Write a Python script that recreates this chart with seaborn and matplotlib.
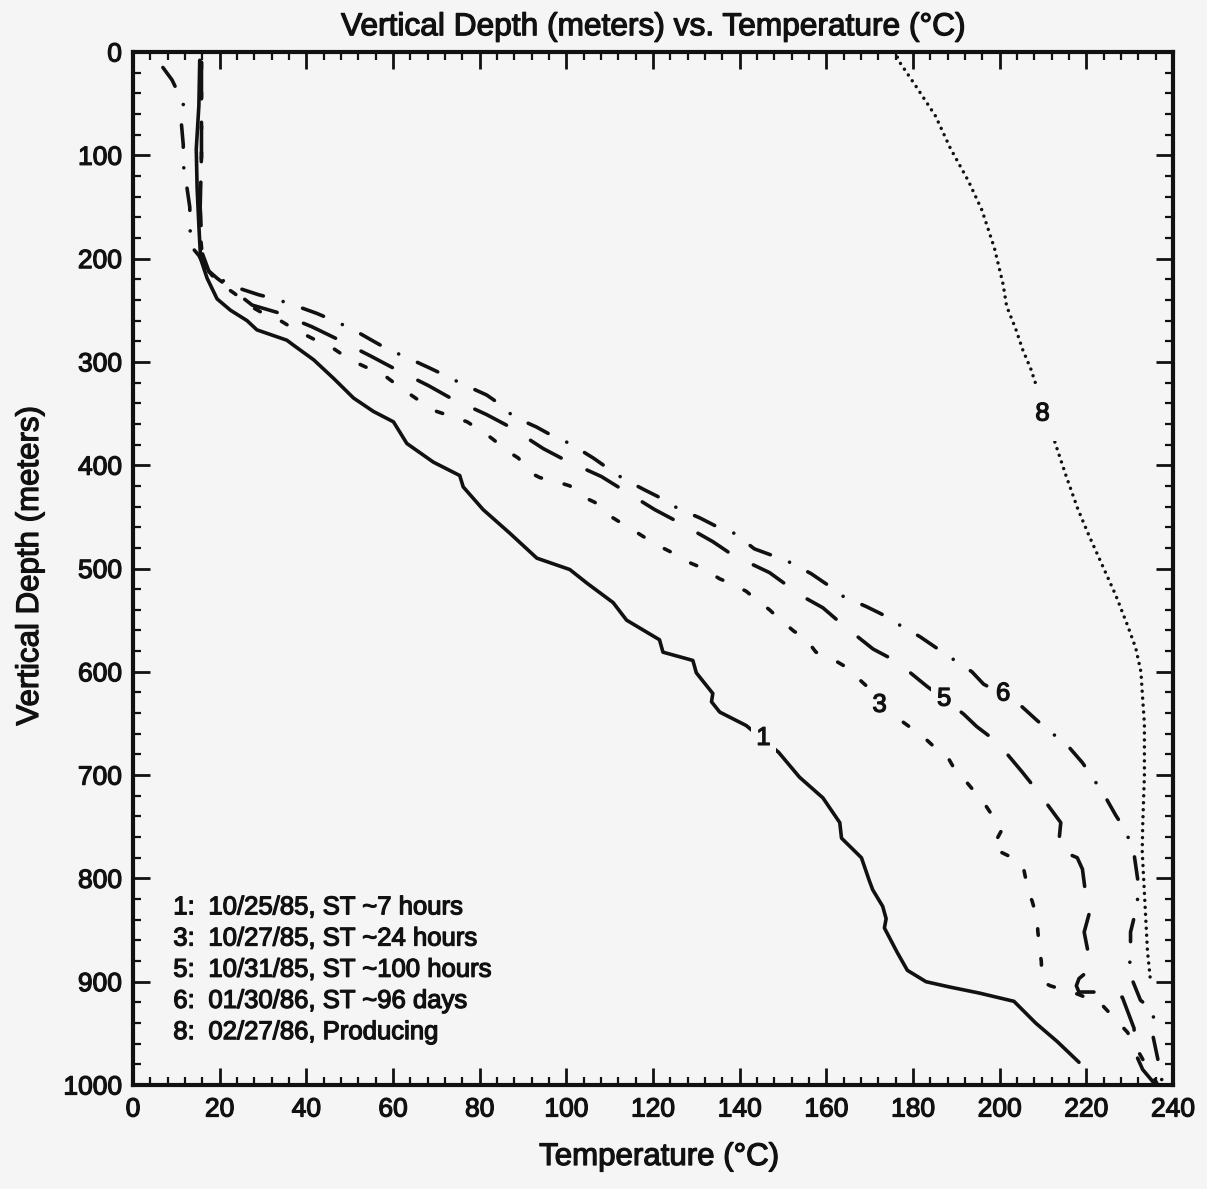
import matplotlib
matplotlib.use("Agg")
import matplotlib.pyplot as plt
import matplotlib.patheffects as pe
from matplotlib.ticker import MultipleLocator
import pandas as pd
import seaborn as sns

# Well temperature surveys: temperature (deg C) against vertical depth (m)
t1 = [15.4, 15.2, 14.6, 14.8, 15.2, 15.6, 17.1, 19.4, 22.5, 26.3, 28.6, 35.5, 37.1, 41.7, 46.3,
      50.9, 55.5, 60.1, 63.2, 69.3, 75.4, 76.2, 80.8, 87.0, 93.2, 100.8, 104.7, 110.8, 113.9,
      121.5, 122.3, 129.2, 130.0, 133.8, 133.5, 135.4, 141.5, 149.0, 153.8, 159.2, 163.1, 163.5,
      168.1, 169.9, 170.7, 173.0, 173.8, 173.4, 176.4, 178.7, 183.0, 188.3, 195.3, 203.3, 208.3,
      213.3, 218.3]
d1 = [8, 52, 94, 132, 168, 200, 219, 239, 250, 260, 269, 279, 284, 298, 316,
      335, 348, 358, 379, 397, 410, 421, 443, 466, 490, 501, 514, 533, 550,
      569, 581, 589, 601, 621, 629, 639, 652, 678, 702, 722, 746, 761,
      780, 802, 811, 827, 839, 848, 872, 889, 900, 905, 911, 919, 940,
      958, 978]

t3 = [15.8, 15.8, 15.5, 15.6, 16.0, 17.4, 19.4, 23.5, 27.5, 30.9, 33.2, 37.1, 39.4, 43.6, 45.9,
      50.1, 56.3, 58.6, 62.4, 64.5, 68.3, 70.1, 75.1, 77.1, 81.2, 83.1, 87.0, 88.9, 92.0, 93.9,
      98.5, 100.8, 104.6, 106.6, 110.4, 112.3, 116.6, 118.5, 122.7, 124.6, 128.8, 131.1, 135.4,
      137.7, 141.5, 143.8, 146.9, 149.2, 152.6, 154.9, 157.6, 159.9, 164.0, 166.2, 169.6, 172.4,
      176.5, 180.1, 182.4, 185.5, 187.8, 190.1, 192.0, 194.8, 196.7, 199.4, 200.5, 198.2, 200.5,
      204.4, 205.6, 206.7, 207.5, 208.7, 208.8, 209.3, 209.6, 209.8, 211.7, 218.0, 223.3, 229.5,
      233.0, 236.5]
d3 = [10, 100, 150, 180, 197, 212, 222, 234, 247, 255, 258, 268, 273, 282, 286,
      298, 310, 315, 327, 333, 344, 348, 355, 358, 369, 375, 388, 393, 408, 412,
      417, 420, 432, 436, 450, 455, 466, 471, 481, 485, 495, 499, 510,
      514, 522, 530, 540, 549, 561, 566, 581, 584, 594, 602, 615, 632,
      645, 656, 663, 675, 681, 698, 705, 719, 729, 746, 753, 771, 775,
      783, 792, 814, 822, 840, 851, 871, 880, 900, 904, 912, 921, 949,
      975, 1000]

t5 = [15.8, 15.8, 15.5, 16.0, 17.5, 19.4, 23.5, 27.5, 33.2, 41.3, 46.7, 54.7, 60.1, 68.2, 73.3,
      81.6, 87.0, 94.7, 99.7, 108.1, 113.1, 120.4, 125.8, 133.8, 138.4, 146.9, 151.5, 154.5,
      159.2, 164.2, 170.8, 176.2, 183.2, 187.4, 191.7, 194.7, 199.4, 205.2, 209.0, 214.1, 213.5,
      217.9, 219.1, 219.9, 220.6, 219.5, 220.8, 220.6, 218.3, 217.7, 218.3, 222.9, 228.3, 231.0,
      231.4, 233.0, 236.0]
d5 = [10, 100, 150, 195, 212, 219, 232, 245, 252, 266, 277, 294, 306, 323, 335,
      351, 363, 384, 395, 411, 424, 443, 455, 474, 487, 504, 518, 527,
      538, 556, 578, 590, 614, 627, 641, 653, 668, 697, 717, 746, 772,
      780, 791, 817, 835, 852, 880, 889, 897, 904, 910, 910, 915, 945,
      970, 985, 1000]

t6 = [6.9, 9.0, 9.8, 11.7, 11.1, 11.6, 11.6, 12.3, 13.1, 13.2, 13.2, 15.2, 16.5, 19.4, 23.2,
      29.0, 32.8, 37.1, 42.4, 46.3, 50.5, 55.5, 58.9, 62.8, 68.5, 72.0, 75.8, 81.6, 84.7, 87.8,
      93.1, 97.0, 100.8, 106.2, 109.6, 113.1, 118.1, 121.9, 125.8, 130.8, 135.0, 138.8, 143.4,
      147.3, 151.1, 156.5, 160.0, 163.9, 169.3, 172.7, 176.6, 181.6, 185.1, 188.6, 193.6, 196.3,
      200.9, 205.2, 208.6, 211.7, 216.0, 219.1, 221.4, 224.5, 226.8, 229.1, 231.0, 232.2, 231.2,
      230.2, 230.2, 229.9, 232.5, 235.6, 235.2, 236.5, 237.5]
d6 = [15, 27, 34, 48, 66, 90, 109, 127, 150, 169, 187, 197, 207, 218, 227,
      235, 239, 245, 253, 260, 268, 280, 288, 295, 306, 313, 321, 332, 341, 353,
      363, 372, 379, 393, 403, 413, 424, 432, 442, 451, 460, 466, 481,
      487, 493, 505, 515, 527, 537, 544, 554, 566, 576, 586, 600, 612,
      622, 634, 647, 658, 673, 688, 702, 722, 739, 754, 776, 811, 835,
      852, 870, 891, 918, 928, 949, 975, 997]

t8 = [176.4, 177.1, 180.5, 185.2, 188.6, 192.8, 195.9, 198.8, 200.8, 201.6, 203.7, 205.3, 207.2,
      209.0, 211.0, 213.0, 215.3, 218.0, 220.6, 223.7, 226.8, 229.5, 231.4, 232.6, 233.0, 233.4,
      233.4, 233.0, 232.9, 233.3, 233.7, 234.1, 234.8]
d8 = [5, 11, 32, 62, 93, 125, 153, 190, 225, 246, 268, 288, 307,
      330, 355, 381, 410, 442, 468, 497, 526, 555, 577, 600, 626, 650,
      700, 750, 774, 806, 838, 870, 899]

survey_ids = ["1", "3", "5", "6", "8"]
survey_desc = ["10/25/85, ST ~7 hours", "10/27/85, ST ~24 hours", "10/31/85, ST ~100 hours",
               "01/30/86, ST ~96 days", "02/27/86, Producing"]

x_ticks = list(range(0, 241, 20))
y_ticks = list(range(0, 1001, 100))

BG = "#f5f5f5"
INK = "#111111"
HEAVY = [pe.withStroke(linewidth=0.9, foreground=INK)]

sns.set_theme(style="ticks")
plt.rcParams["font.family"] = ["Liberation Sans", "DejaVu Sans"]

fig = plt.figure(figsize=(12.07, 11.89), dpi=100, facecolor=BG)
ax = fig.add_axes([133 / 1207, 1 - 1085 / 1189, 1040 / 1207, 1033 / 1189])
ax.set_facecolor(BG)

lw = 2.6
styles = {
    "1": dict(linestyle="-"),
    "3": dict(linestyle=(0, (1.8, 6.5))),
    "5": dict(linestyle=(0, (9.8, 7.9))),
    "6": dict(linestyle=(0, (6.2, 5.7, 0.01, 5.7))),
    "8": dict(linestyle=(0, (0.01, 2.0)), linewidth=2.5),
}
series = {"1": (t1, d1), "3": (t3, d3), "5": (t5, d5), "6": (t6, d6), "8": (t8, d8)}

for key, (tt, dd) in series.items():
    df = pd.DataFrame({"Temperature": tt, "Depth": dd})
    kw = dict(linewidth=lw, color=INK, dash_capstyle="round", solid_capstyle="round",
              solid_joinstyle="round")
    kw.update(styles[key])
    sns.lineplot(data=df, x="Temperature", y="Depth", sort=False, estimator=None,
                 errorbar=None, ax=ax, **kw)

# curve identifiers placed on the lines, masking them underneath
label_pos = {"1": (145.5, 664), "3": (172.3, 632), "5": (187.2, 626), "6": (200.8, 621),
             "8": (209.9, 350)}
label_pad = {"1": 3.5, "3": 4, "5": 4, "6": 3.5, "8": 11}
for key, (xx, yy) in label_pos.items():
    ax.text(xx, yy, key, fontsize=18.5, ha="center", va="center", color=INK, zorder=5,
            path_effects=HEAVY,
            bbox=dict(facecolor=BG, edgecolor="none", pad=label_pad[key]))

# survey list
for i, (sid, desc) in enumerate(zip(survey_ids, survey_desc)):
    yy = 828 + i * 30.2
    ax.text(9.3, yy, sid + ":", fontsize=18.5, ha="left", va="center", color=INK,
            path_effects=HEAVY)
    ax.text(17.4, yy, desc, fontsize=18.5, ha="left", va="center", color=INK,
            path_effects=HEAVY)

ax.set_xlim(0, 240)
ax.set_ylim(1000, 0)
ax.set_xticks(x_ticks)
ax.set_yticks(y_ticks)
ax.xaxis.set_minor_locator(MultipleLocator(4))
ax.yaxis.set_minor_locator(MultipleLocator(20))
ax.tick_params(which="both", direction="in", top=True, right=True, colors=INK)
ax.tick_params(which="major", length=12, width=2.0, labelsize=19, pad=9)
ax.tick_params(which="minor", length=6, width=1.6)
ax.tick_params(axis="y", which="major", pad=8)
for sp in ax.spines.values():
    sp.set_linewidth(3.0)
    sp.set_color(INK)
for lbl in ax.get_xticklabels() + ax.get_yticklabels():
    lbl.set_path_effects(HEAVY)

ax.set_xlabel("Temperature (\u00b0C)", fontsize=22.5, color=INK, path_effects=HEAVY)
ax.set_ylabel("Vertical Depth (meters)", fontsize=22.5, color=INK, path_effects=HEAVY)
ax.xaxis.label.set_va("center")
ax.yaxis.label.set_va("center")
ax.xaxis.set_label_coords(0.506, -0.0697)
ax.yaxis.set_label_coords((30 - 133) / 1040, 0.503)

ax.text(0.5, 1.024, "Vertical Depth (meters) vs. Temperature (\u00b0C)", transform=ax.transAxes,
        fontsize=22.8, ha="center", va="center", color=INK, path_effects=HEAVY)

fig.savefig("out.png", dpi=100, facecolor=BG)
